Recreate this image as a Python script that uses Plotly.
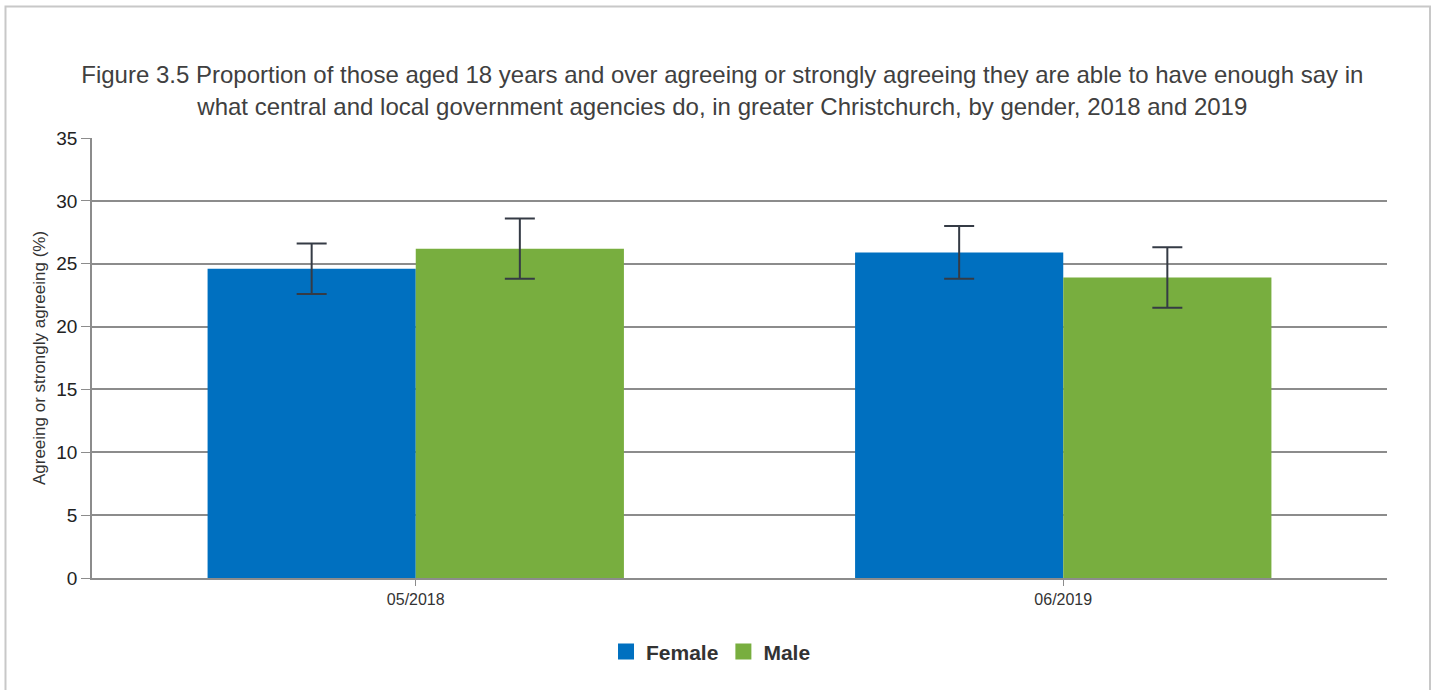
import plotly.graph_objects as go

# ---------------------------------------------------------------#
# Data                                                           #
# ---------------------------------------------------------------#
periods = ["05/2018", "06/2019"]
female = [24.6, 25.9]
female_err = [2.0, 2.1]
male = [26.2, 23.9]
male_err = [2.4, 2.4]

female_color = "#0070C0"
male_color = "#78AE3F"

title_text = ("Figure 3.5 Proportion of those aged 18 years and over agreeing or strongly agreeing "
              "they are able to have enough say in<br>what central and local government agencies do, "
              "in greater Christchurch, by gender, 2018 and 2019")

err_style = dict(type="data", thickness=2, width=15, color="#353b45")

fig = go.Figure()
fig.add_trace(go.Bar(x=periods, y=female, name="Female", marker_color=female_color,
                     marker_line_width=0, showlegend=False,
                     error_y=dict(array=female_err, **err_style)))
fig.add_trace(go.Bar(x=periods, y=male, name="Male", marker_color=male_color,
                     marker_line_width=0, showlegend=False,
                     error_y=dict(array=male_err, **err_style)))

# legend entries with bigger square swatches
for nm, col in [("Female", female_color), ("Male", male_color)]:
    fig.add_trace(go.Scatter(x=[None], y=[None], mode="markers", name=nm,
                             marker=dict(symbol="square", size=18, color=col)))

fig.update_layout(
    width=1436, height=690,
    margin=dict(l=92, r=49, t=138, b=112),
    paper_bgcolor="white", plot_bgcolor="white",
    font=dict(family="Liberation Sans, Arial, sans-serif", color="#333333"),
    title=dict(text=title_text, x=0.503, xanchor="center", y=0.879, yanchor="bottom",
               font=dict(size=24, color="#404040")),
    barmode="group", bargap=0.357, bargroupgap=0,
    legend=dict(orientation="h", x=0.478, xanchor="center", y=-0.168, yanchor="middle",
                font=dict(size=21, color="#333333", weight="bold"), itemwidth=30,
                tracegroupgap=0),
    showlegend=True,
)

fig.update_yaxes(range=[0, 35], dtick=5, showgrid=True, gridcolor="#8c8c8c", gridwidth=1.5,
                 showline=True, linecolor="#8c8c8c", linewidth=1.5,
                 ticks="outside", ticklen=9, tickcolor="#8c8c8c",
                 tickfont=dict(size=19, color="#222222"), zeroline=False,
                 title=dict(text="Agreeing or strongly agreeing (%)",
                            font=dict(size=17, color="#333333"), standoff=6))
fig.update_xaxes(showline=True, linecolor="#8c8c8c", linewidth=1.5,
                 ticks="outside", ticklen=6, tickcolor="#8c8c8c",
                 tickfont=dict(size=16, color="#333333"))

# outer frame
fig.add_shape(type="rect", xref="paper", yref="paper",
              x0=-0.0668, x1=1.0332, y0=-0.3, y1=1.2989,
              line=dict(color="#c8c8c8", width=2), fillcolor="rgba(0,0,0,0)", layer="below")

# page body margin off so the figure sits at the window corner
fig.write_html("out.html", config={"displayModeBar": False},
               post_script="document.body.style.margin='0';")
